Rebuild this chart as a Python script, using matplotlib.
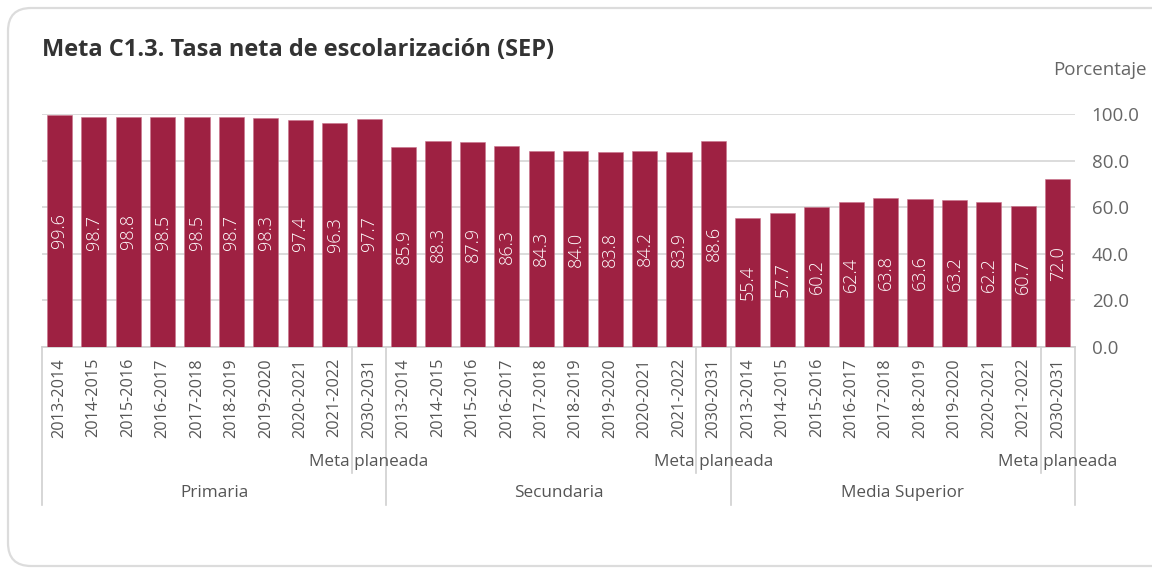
import matplotlib
matplotlib.use("Agg")
import matplotlib.pyplot as plt
from matplotlib.patches import FancyBboxPatch
from matplotlib.transforms import blended_transform_factory
import numpy as np

plt.rcParams['font.family'] = ['Open Sans', 'DejaVu Sans']

title = "Meta C1.3. Tasa neta de escolarización (SEP)"
groups = ["Primaria", "Secundaria", "Media Superior"]
years = ["2013-2014", "2014-2015", "2015-2016", "2016-2017", "2017-2018",
         "2018-2019", "2019-2020", "2020-2021", "2021-2022", "2030-2031"]
meta_label = "Meta planeada"
primaria = [99.6, 98.7, 98.8, 98.5, 98.5, 98.7, 98.3, 97.4, 96.3, 97.7]
secundaria = [85.9, 88.3, 87.9, 86.3, 84.3, 84.0, 83.8, 84.2, 83.9, 88.6]
media_superior = [55.4, 57.7, 60.2, 62.4, 63.8, 63.6, 63.2, 62.2, 60.7, 72.0]
yticks = [0, 20, 40, 60, 80, 100]
ylabel = "Porcentaje"

values = primaria + secundaria + media_superior
labels = years * 3
n = len(values)
x = np.arange(n)

W, H = 1152, 570
fig = plt.figure(figsize=(W / 100, H / 100), dpi=100)
fig.patch.set_facecolor("white")

# card border
card = FancyBboxPatch((8 / W, 4 / H), 1.2, (H - 12) / H,
                      boxstyle="round,pad=0,rounding_size=0.02",
                      transform=fig.transFigure, facecolor="none",
                      edgecolor="#dcdcdc", linewidth=1.6, zorder=-1,
                      mutation_aspect=W / H)
fig.patches.append(card)

left, right = 42 / W, 1075 / W
bottom, top = 1 - 347 / H, 1 - 114 / H
ax = fig.add_axes([left, bottom, right - left, top - bottom])
ax.set_facecolor("none")

bar_color = "#9E2142"
ax.bar(x, values, width=0.73, color=bar_color, edgecolor="#c9748c",
       linewidth=0.4, zorder=3)
for xi, v in zip(x, values):
    ax.text(xi, v / 2, f"{v:.1f}", rotation=90, ha="center", va="center",
            color="white", fontsize=13, fontweight="light", zorder=4)

ax.set_xlim(-0.5, n - 0.5)
ax.set_ylim(0, 100)
ax.yaxis.tick_right()
ax.set_yticks(yticks)
ax.set_yticklabels([f"{t:.1f}" for t in yticks], fontsize=13.5, color="#666666")
ax.tick_params(axis="y", length=0, pad=12)
ax.grid(axis="y", color="#d6d6d6", linewidth=1.2, zorder=0)
ax.set_axisbelow(True)
for s in ["left", "right", "top"]:
    ax.spines[s].set_visible(False)
ax.spines["bottom"].set_color("#d0d0d0")
ax.spines["bottom"].set_linewidth(1.2)

ax.set_xticks(x)
ax.set_xticklabels(labels, rotation=90, fontsize=11.7, color="#555555")
ax.tick_params(axis="x", length=0, pad=8)

# grouping separators and labels
tr = blended_transform_factory(ax.transData, fig.transFigure)
y_axis = 1 - 347 / H
y_long = 1 - 505 / H
y_short = 1 - 473 / H
for g in range(len(groups) + 1):
    xs = g * 10 - 0.5
    ax.plot([xs, xs], [y_axis, y_long], transform=tr, color="#d0d0d0",
            linewidth=1.2, clip_on=False)
for g, name in enumerate(groups):
    xs = g * 10 + 8.5
    ax.plot([xs, xs], [y_axis, y_short], transform=tr, color="#d0d0d0",
            linewidth=1.2, clip_on=False)
    ax.text(g * 10 + 9, 1 - 462 / H, meta_label, transform=tr, ha="center",
            va="center", fontsize=12.3, color="#555555")
    ax.text(g * 10 + 4.5, 1 - 493 / H, name, transform=tr, ha="center",
            va="center", fontsize=12.3, color="#555555")

fig.text(42 / W, 1 - 50 / H, title, ha="left", va="center", fontsize=17,
         fontweight="bold", color="#333333")
fig.text(1053 / W, 1 - 70 / H, ylabel, ha="left", va="center", fontsize=13.5,
         color="#666666")

fig.savefig("out.png", dpi=100, facecolor="white")
